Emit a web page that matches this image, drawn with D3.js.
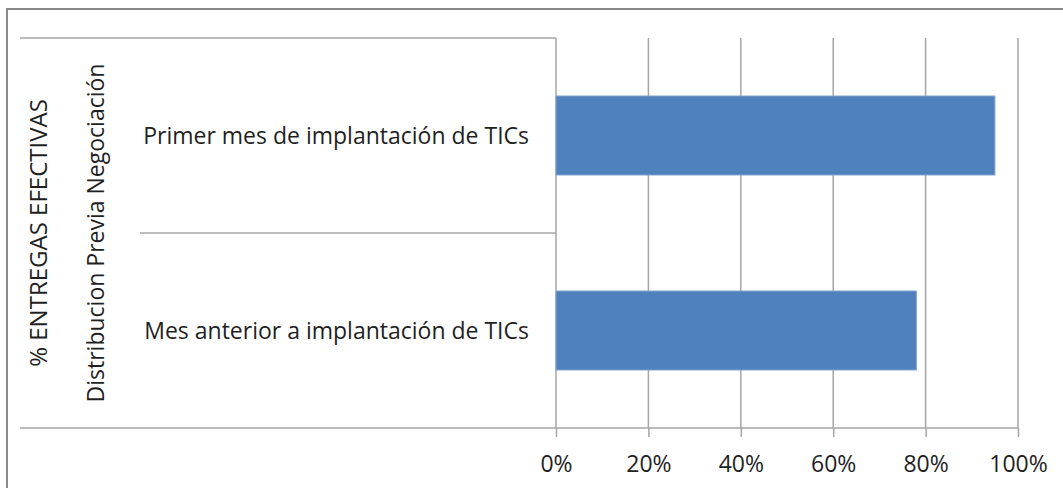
<!DOCTYPE html>
<html>
<head>
<meta charset="utf-8">
<script src="https://cdn.jsdelivr.net/npm/d3@7"></script>
<style>
  body { margin: 0; background: #fff; }
  svg text { font-family: "Open Sans", sans-serif; fill: #1f1f1f; }
</style>
</head>
<body>
<div id="chart"></div>
<script>
// categories, top to bottom
const categories = ["Primer mes de implantación de TICs", "Mes anterior a implantación de TICs"];
const values = [0.95, 0.78];
const tickValues = [0, 0.2, 0.4, 0.6, 0.8, 1];
const groupLabel = "Distribucion Previa Negociación";
const outerLabel = "% ENTREGAS EFECTIVAS";

const W = 1063, H = 488;
const plot = { left: 556, right: 1018, top: 38, bottom: 428 };
const fontSize = "23px";

const svg = d3.select("#chart").append("svg")
  .attr("width", W)
  .attr("height", H);

// outer chart border
svg.append("rect")
  .attr("x", 7).attr("y", 9)
  .attr("width", 1080).attr("height", 520)
  .attr("fill", "none")
  .attr("stroke", "#8a8a8a")
  .attr("stroke-width", 2);

const x = d3.scaleLinear().domain([0, 1]).range([plot.left, plot.right]);
const y = d3.scaleBand()
  .domain(categories)
  .range([plot.top, plot.bottom])
  .paddingInner(0.595)
  .paddingOuter(0.2975);

// vertical gridlines
svg.append("g")
  .selectAll("line")
  .data(tickValues)
  .join("line")
  .attr("x1", (d) => x(d)).attr("x2", (d) => x(d))
  .attr("y1", plot.top).attr("y2", plot.bottom)
  .attr("stroke", "#a6a6a6")
  .attr("stroke-width", 1.5);

// category axis lines (multi-level)
const sepLines = [
  { y: plot.top, x1: 20 },
  { y: (plot.top + plot.bottom) / 2, x1: 140 },
];
svg.append("g")
  .selectAll("line")
  .data(sepLines)
  .join("line")
  .attr("x1", (d) => d.x1).attr("x2", plot.left)
  .attr("y1", (d) => d.y).attr("y2", (d) => d.y)
  .attr("stroke", "#a6a6a6")
  .attr("stroke-width", 1.5);

// bars
svg.append("g")
  .selectAll("rect")
  .data(categories)
  .join("rect")
  .attr("x", x(0))
  .attr("y", (d) => y(d))
  .attr("width", (d, i) => x(values[i]) - x(0))
  .attr("height", y.bandwidth())
  .attr("fill", "#4f81bd")
  .attr("stroke", "#7fa3d0")
  .attr("stroke-width", 1);

// bottom axis
const xAxis = svg.append("g")
  .attr("transform", "translate(0," + plot.bottom + ")")
  .call(d3.axisBottom(x)
    .tickValues(tickValues)
    .tickFormat(d3.format(".0%"))
    .tickSize(9));
xAxis.select(".domain").remove();
xAxis.selectAll(".tick line").attr("stroke", "#a6a6a6").attr("stroke-width", 1.5);
xAxis.selectAll("text")
  .attr("y", 44)
  .attr("dy", 0)
  .style("font-size", fontSize)
  .attr("fill", "#1f1f1f");

svg.append("line")
  .attr("x1", 20).attr("x2", plot.right)
  .attr("y1", plot.bottom).attr("y2", plot.bottom)
  .attr("stroke", "#a6a6a6")
  .attr("stroke-width", 1.5);

// category labels
svg.append("g")
  .selectAll("text")
  .data(categories)
  .join("text")
  .attr("x", 529)
  .attr("y", (d) => y(d) + y.bandwidth() / 2)
  .attr("dy", "0.35em")
  .attr("text-anchor", "end")
  .style("font-size", fontSize)
  .text((d) => d);

// rotated group labels
const rotated = [
  { text: groupLabel, x: 96, size: "23px" },
  { text: outerLabel, x: 39, size: "24px" },
];
svg.append("g")
  .selectAll("text")
  .data(rotated)
  .join("text")
  .attr("transform", (d) => "translate(" + d.x + "," + (plot.top + plot.bottom) / 2 + ") rotate(-90)")
  .attr("dy", "0.35em")
  .attr("text-anchor", "middle")
  .style("font-size", (d) => d.size)
  .text((d) => d.text);
</script>
</body>
</html>
